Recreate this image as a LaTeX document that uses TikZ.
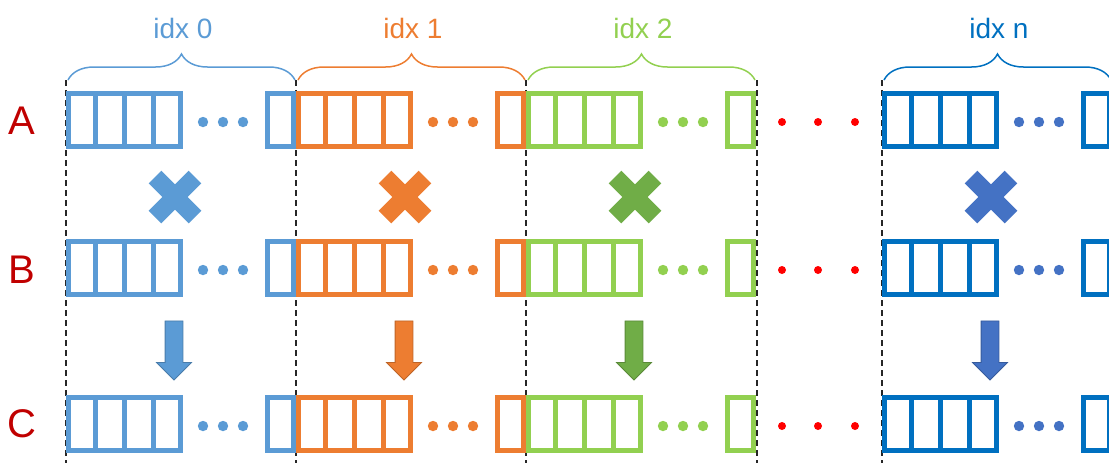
\documentclass[tikz,border=0pt]{standalone}
\usepackage{fontspec}
\setmainfont{Liberation Sans}
\usetikzlibrary{calc,shapes.arrows,shapes.misc,decorations.pathreplacing}
\definecolor{idxzero}{HTML}{5B9BD5}
\definecolor{idxone}{HTML}{ED7D31}
\definecolor{idxtwo}{HTML}{92D050}
\definecolor{idxtwodark}{HTML}{70AD47}
\definecolor{idxn}{HTML}{0070C0}
\definecolor{idxndark}{HTML}{4472C4}
\definecolor{rowred}{HTML}{C00000}
\definecolor{dotred}{HTML}{FF0000}

\begin{document}
\begin{tikzpicture}[
  x=0.5pt, y=-0.5pt,
  bigbox/.style={rectangle, draw=#1, line width=2.5pt, minimum width=56pt, minimum height=26.5pt, inner sep=0pt},
  endbox/.style={bigbox=#1, minimum width=13pt},
  divider/.style={draw=#1, line width=2.5pt},
  rowlabel/.style={text=rowred, font=\fontsize{20}{24}\selectfont},
  idxlabel/.style={text=#1, font=\fontsize{14}{17}\selectfont},
  bracket/.style={draw=#1, line width=0.75pt, decorate, decoration={brace, amplitude=13pt}},
  guide/.style={draw=black!85, line width=1.2pt, dash pattern=on 3pt off 2pt},
  mult/.style={cross out, draw=#1, line width=9pt, minimum size=20pt, inner sep=0pt, outer sep=0pt},
  downarrow/.style={single arrow, rotate=-90, fill=#1, draw=#1!80!black, line width=0.4pt, minimum height=29.5pt, inner sep=4.25pt, single arrow head extend=4.25pt}
]
\clip (0,0) rectangle (1109,463);

\node[rowlabel] (rowA) at (22,121) {A};
\node[rowlabel] (rowB) at (22,270) {B};
\node[rowlabel] (rowC) at (22,424) {C};

\foreach \x in {66,296,526,757,882}
  \draw[guide] (\x,80) -- (\x,463);

\foreach \g/\x/\c/\m/\d in {0/66/idxzero/idxzero/idxzero, 1/296/idxone/idxone/idxone, 2/526/idxtwo/idxtwodark/idxtwo, n/882/idxn/idxndark/idxndark} {
  \draw[bracket=\c] (\x+2,80) -- (\x+229,80);
  \node[idxlabel=\c] (idx\g) at (\x+117,28) {idx \g};
  \foreach \r/\y in {A/120, B/268, C/424} {
    \node[bigbox=\c] (\r\g) at (\x+58.5,\y) {};
    \foreach \k in {1,2,3}
      \draw[divider=\c] ($(\r\g.north west)!\k/4!(\r\g.north east)$) -- ($(\r\g.south west)!\k/4!(\r\g.south east)$);
    \foreach \k in {137,157,177}
      \fill[\d] (\x+\k,\y+2) circle (2.6pt);
    \node[endbox=\c] (\r\g-end) at (\x+214.5,\y) {};
  }
  \node[mult=\m] (x\g) at (\x+109,197) {};
  \node[downarrow=\m] (ar\g) at (\x+108,346) {};
}

% dots between idx 2 and idx n
\foreach \y in {122,270,426}
  \foreach \k in {782,818,855}
    \fill[dotred] (\k,\y) circle (2pt);
\end{tikzpicture}
\end{document}
